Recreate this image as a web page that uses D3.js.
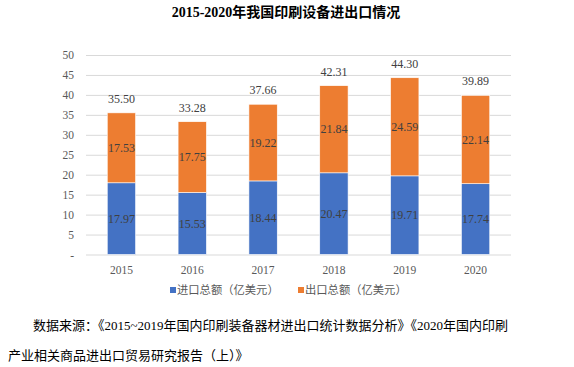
<!DOCTYPE html>
<html><head><meta charset="utf-8">
<script src="https://cdn.jsdelivr.net/npm/d3@7/dist/d3.min.js"></script>
<style>
body{margin:0;background:#fff;}
svg{display:block;}
</style></head>
<body>
<svg id="c" width="574" height="367"></svg>
<script>
const years = ["2015","2016","2017","2018","2019","2020"];
const importVals = [17.97, 15.53, 18.44, 20.47, 19.71, 17.74];
const exportVals = [17.53, 17.75, 19.22, 21.84, 24.59, 22.14];
const totalVals = [35.50, 33.28, 37.66, 42.31, 44.30, 39.89];
const yTicks = [0, 5, 10, 15, 20, 25, 30, 35, 40, 45, 50];
const seriesNames = ["进口总额（亿美元）", "出口总额（亿美元）"];
const colors = ["#4472C4", "#ED7D31"];
const title = "2015-2020年我国印刷设备进出口情况";
const source1 = "数据来源：《2015~2019年国内印刷装备器材进出口统计数据分析》《2020年国内印刷";
const source2 = "产业相关商品进出口贸易研究报告（上）》";

const svg = d3.select("#c");
const serif = "'Liberation Serif','Times New Roman','Noto Sans CJK SC',serif";

const x = d3.scaleBand().domain(years).range([86, 511]).paddingInner(0.6).paddingOuter(0.3);
const y = d3.scaleLinear().domain([0, 50]).range([254.5, 55]);

// title
svg.append("text").attr("x", 286).attr("y", 17).attr("text-anchor", "middle")
  .attr("font-family", serif).attr("font-weight", "bold").attr("font-size", 14).attr("fill", "#000")
  .text(title);

// grid
const yAxis = d3.axisLeft(y).tickValues(yTicks).tickSize(-(511 - 86))
  .tickFormat(d => d === 0 ? "-" : d);
const g = svg.append("g").attr("transform", "translate(86,0)").call(yAxis);
g.select(".domain").remove();
g.selectAll(".tick line").attr("stroke", "#d9d9d9").attr("stroke-width", 1);
g.selectAll(".tick text").attr("x", -12).attr("font-family", serif).attr("font-size", 11.5).attr("fill", "#595959");

// x labels
const xAxis = d3.axisBottom(x).tickSize(0);
const gx = svg.append("g").attr("transform", `translate(0,${y(0)})`).call(xAxis);
gx.select(".domain").remove();
gx.selectAll(".tick text").attr("dy", "1.35em").attr("y", 4).attr("font-family", serif).attr("font-size", 11.5).attr("fill", "#595959");

// bars
const stacks = years.map((yr, i) => ({yr, imp: importVals[i], exp: exportVals[i], tot: totalVals[i]}));
const bars = svg.append("g");
stacks.forEach(d => {
  bars.append("rect").attr("x", x(d.yr)).attr("width", x.bandwidth())
    .attr("y", y(d.imp)).attr("height", y(0) - y(d.imp)).attr("fill", colors[0])
    .attr("stroke", "#fff").attr("stroke-width", 0.6);
  bars.append("rect").attr("x", x(d.yr)).attr("width", x.bandwidth())
    .attr("y", y(d.imp + d.exp)).attr("height", y(d.imp) - y(d.imp + d.exp)).attr("fill", colors[1])
    .attr("stroke", "#fff").attr("stroke-width", 0.6);
  const cx = x(d.yr) + x.bandwidth() / 2;
  const lbl = (yy, t) => bars.append("text").attr("x", cx).attr("y", yy).attr("text-anchor", "middle")
    .attr("dominant-baseline", "central").attr("font-family", serif).attr("font-size", 12).attr("fill", "#404040").text(t);
  lbl((y(0) + y(d.imp)) / 2, d.imp.toFixed(2));
  lbl((y(d.imp) + y(d.imp + d.exp)) / 2, d.exp.toFixed(2));
  lbl(y(d.imp + d.exp) - 14, d.tot.toFixed(2));
});

// legend
const legX = [170, 298];
seriesNames.forEach((n, i) => {
  svg.append("rect").attr("x", legX[i]).attr("y", 287).attr("width", 6).attr("height", 6).attr("fill", colors[i]);
  svg.append("text").attr("x", legX[i] + 7).attr("y", 290).attr("dominant-baseline", "central")
    .attr("font-family", serif).attr("font-size", 11.3).attr("fill", "#595959").text(n);
});

// source
svg.append("text").attr("x", 33).attr("y", 330).attr("font-family", serif).attr("font-size", 13).attr("fill", "#000").text(source1);
svg.append("text").attr("x", 8).attr("y", 360).attr("font-family", serif).attr("font-size", 13).attr("fill", "#000").text(source2);
</script>
</body></html>
